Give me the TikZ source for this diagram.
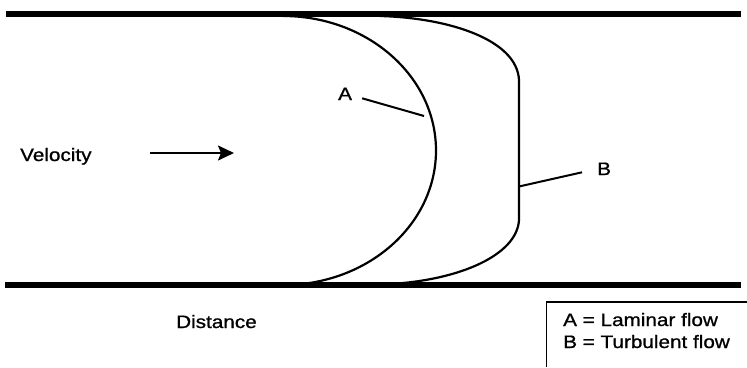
\documentclass[tikz,border=0pt]{standalone}
\usepackage{fontspec}
\setmainfont{Liberation Sans}[FakeStretch=1.15, FakeBold=1]
\usetikzlibrary{arrows.meta}
\begin{document}
\begin{tikzpicture}[x=1pt,y=-1pt,
  pipe/.style={line width=6pt},
  profile/.style={line width=2.2pt, line join=round},
  leader/.style={line width=2pt},
  lbl/.style={font=\fontsize{18}{22}\selectfont, inner sep=0pt, anchor=base west},
  legendline/.style={line width=1.6pt},
]
\useasboundingbox (0,0) rectangle (747,367);

% pipe walls
\draw[pipe] (6,13.5) -- (741,13.5);
\draw[pipe] (5,285) -- (741,285);

% laminar profile (half ellipse)
\draw[profile] (283,16) arc[start angle=90, end angle=-90, x radius=153pt, y radius=134.5pt];

% turbulent profile (blunt front)
\draw[profile] (380,16) .. controls (450,18) and (517,40) .. (519,80)
  -- (519,220) .. controls (517,255) and (460,280) .. (390,284);

% labels and leaders
\node[lbl] (A) at (338,100) {A};
\coordinate (Aon) at (424,116);
\draw[leader] (A.east) ++(10,4.5) -- (Aon);

\node[lbl] (B) at (597,175) {B};
\coordinate (Bon) at (519,186.5);
\draw[leader] (B.west) ++(-15,3.5) -- (Bon);

% velocity arrow
\node[lbl] (vel) at (20,161) {Velocity};
\coordinate (arrtail) at (150,153);
\coordinate (arrtip) at (234,153);
\draw[line width=2pt, -{Stealth[length=16pt, width=15pt, inset=3pt]}] (arrtail) -- (arrtip);

\node[lbl] (dist) at (176,328) {Distance};

% legend
\draw[legendline] (747,302) -- (546.5,302) -- (546.5,367);
\node[lbl] (la) at (563,326) {A = Laminar flow};
\node[lbl] (lb) at (563,348) {B = Turbulent flow};
\end{tikzpicture}
\end{document}
